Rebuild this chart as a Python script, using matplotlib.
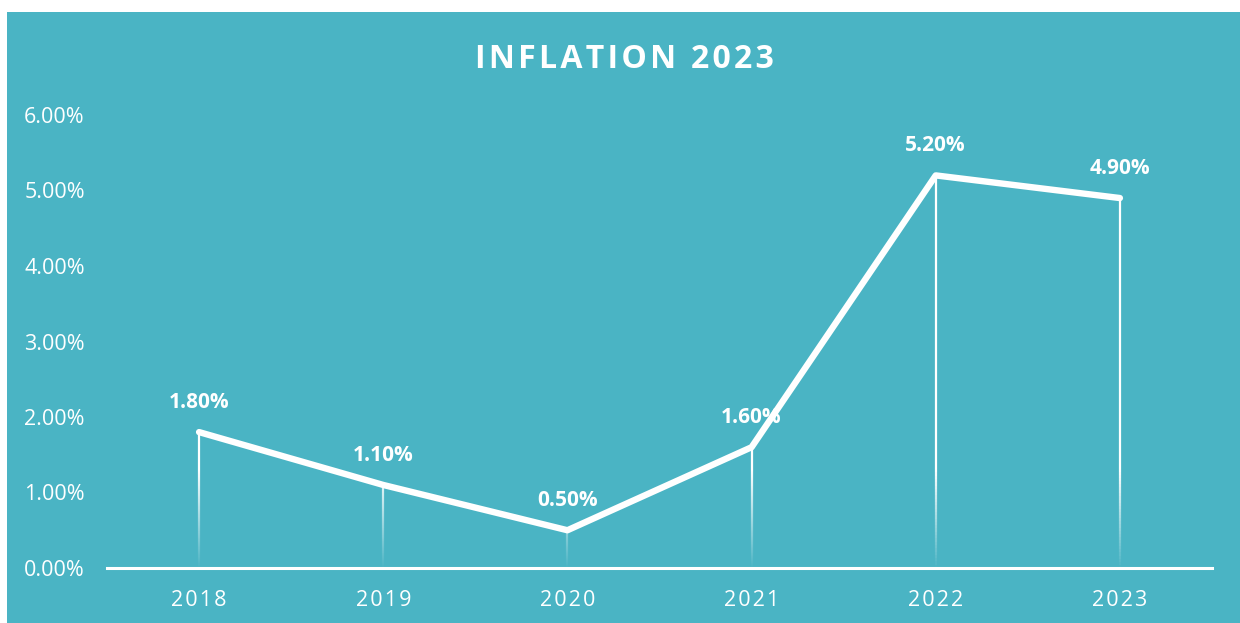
import numpy as np
import matplotlib
matplotlib.use("Agg")
import matplotlib.pyplot as plt
from matplotlib.collections import LineCollection
from matplotlib.patches import Rectangle

years = ["2018", "2019", "2020", "2021", "2022", "2023"]
inflation = [1.8, 1.1, 0.5, 1.6, 5.2, 4.9]
yticks = [0, 1, 2, 3, 4, 5, 6]

teal = "#4AB4C4"
plt.rcParams["font.family"] = ["Open Sans", "DejaVu Sans"]


def spaced(s, gap="\u200a"):
    return gap.join(s)


fig = plt.figure(figsize=(12.4, 6.23), dpi=100, facecolor="white")
fig.patches.append(Rectangle((7 / 1240, 0), 1 - 7 / 1240, (623 - 12) / 623,
                             transform=fig.transFigure, facecolor=teal,
                             edgecolor="none", zorder=-10))

ax = fig.add_axes([107 / 1240, 55 / 623, (1212 - 107) / 1240, (568 - 115) / 623])
ax.set_facecolor("none")

x = np.arange(len(years))

# vertical drop lines fading out towards the baseline
for xi, yi in zip(x, inflation):
    yy = np.linspace(0, yi, 120)
    segs = [[(xi, yy[i]), (xi, yy[i + 1])] for i in range(len(yy) - 1)]
    mid = (yy[:-1] + yy[1:]) / 2
    alphas = np.clip(mid / 1.3, 0, 1)
    cols = [(1, 1, 1, a) for a in alphas]
    ax.add_collection(LineCollection(segs, colors=cols, linewidths=1.6, zorder=2))

ax.plot(x, inflation, color="white", lw=4.6, solid_capstyle="round",
        solid_joinstyle="round", zorder=3)

for xi, yi in zip(x, inflation):
    ax.annotate(f"{yi:.2f}%", (xi, yi), xytext=(0, 21.5), textcoords="offset points",
                ha="center", va="center", color="white", fontsize=15,
                fontweight="bold", zorder=4)

ax.set_xlim(-0.5, len(years) - 0.5)
ax.set_ylim(0, 6)
ax.set_yticks(yticks)
ax.set_yticklabels([f"{v:.2f}%" for v in yticks])
ax.set_xticks(x)
ax.set_xticklabels([spaced(y) for y in years])
ax.tick_params(axis="y", length=0, pad=16, labelsize=15.5, labelcolor="white")
ax.tick_params(axis="x", length=0, pad=16, labelsize=15.5, labelcolor="white")

for side in ["left", "right", "top"]:
    ax.spines[side].set_visible(False)
ax.spines["bottom"].set_color("white")
ax.spines["bottom"].set_linewidth(2.2)

fig.text(624 / 1240, 1 - 59 / 623, spaced("INFLATION 2023"), ha="center", va="center",
         color="white", fontsize=23, fontweight="bold")

fig.savefig("out.png", dpi=100, facecolor=fig.get_facecolor())
